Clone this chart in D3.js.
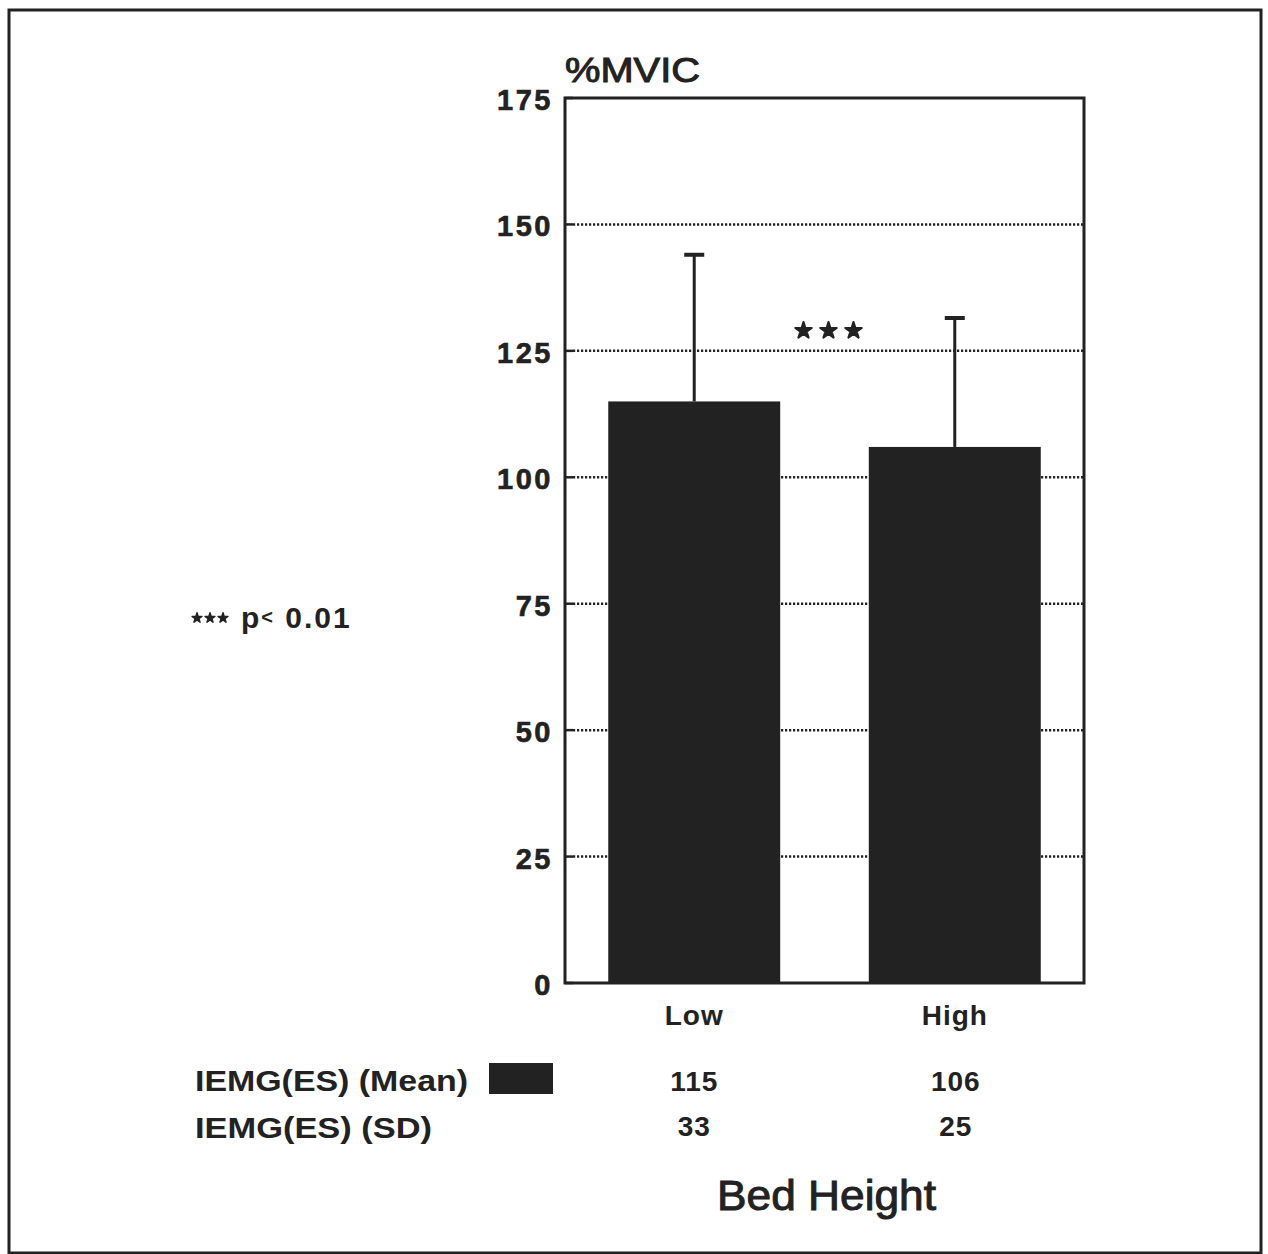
<!DOCTYPE html>
<html>
<head>
<meta charset="utf-8">
<script src="https://cdn.jsdelivr.net/npm/d3@7"></script>
<style>
  body { margin: 0; background: #fff; }
  svg { display: block; font-family: "Liberation Sans", Arial, sans-serif; }
  .tick-label { font-weight: bold; font-size: 29px; fill: #222; }
  .bold { font-weight: bold; fill: #222; }
</style>
</head>
<body>
<svg id="chart" width="1268" height="1254"></svg>
<script>
'use strict';

// data
var categories = ['Low', 'High'];
var meanValues = [115, 106];
var sdValues = [33, 25];
// upper whisker ends as drawn in the figure
var errorTop = [144, 131.5];
var yTicks = [0, 25, 50, 75, 100, 125, 150, 175];
var rowLabels = ['IEMG(ES) (Mean)', 'IEMG(ES) (SD)'];

var ink = '#222';
var margin = {'top': 98, 'left': 565, 'right': 184, 'bottom': 271};
var width = 1268, height = 1254;

var svg = d3.select('#chart');

var x = d3.scaleBand()
  .domain(categories)
  .range([margin.left, width - margin.right])
  .paddingInner(0.34)
  .paddingOuter(0.166);

var y = d3.scaleLinear()
  .domain([0, 175])
  .range([height - margin.bottom, margin.top]);

// outer frame
svg.append('rect')
  .attr('x', 9).attr('y', 10)
  .attr('width', 1252).attr('height', 1243)
  .attr('fill', 'none')
  .attr('stroke', ink)
  .attr('stroke-width', 3);

// dotted grid lines
svg.append('g').selectAll('line.grid')
  .data(yTicks.filter(function (d) { return d > 0 && d < 175; }))
  .enter().append('line')
  .attr('x1', margin.left + 8)
  .attr('x2', width - margin.right)
  .attr('y1', function (d) { return y(d); })
  .attr('y2', function (d) { return y(d); })
  .attr('stroke', ink)
  .attr('stroke-width', 2.5)
  .attr('stroke-dasharray', '2.2,1.8');

// short solid ticks on the left axis
svg.append('g').selectAll('line.tk')
  .data(yTicks)
  .enter().append('line')
  .attr('x1', margin.left)
  .attr('x2', margin.left + 8)
  .attr('y1', function (d) { return y(d); })
  .attr('y2', function (d) { return y(d); })
  .attr('stroke', ink)
  .attr('stroke-width', 2.5);

// bars
svg.append('g').selectAll('rect.bar')
  .data(meanValues)
  .enter().append('rect')
  .attr('x', function (d, i) { return x(categories[i]); })
  .attr('y', function (d) { return y(d); })
  .attr('width', x.bandwidth())
  .attr('height', function (d) { return y(0) - y(d); })
  .attr('fill', ink);

// error bars
svg.append('g').selectAll('g.err')
  .data(errorTop)
  .enter().append('g')
  .each(function (d, i) {
    var g = d3.select(this);
    var cx = x(categories[i]) + x.bandwidth() / 2;
    g.append('line')
      .attr('x1', cx).attr('x2', cx)
      .attr('y1', y(meanValues[i])).attr('y2', y(d))
      .attr('stroke', ink).attr('stroke-width', 3);
    g.append('line')
      .attr('x1', cx - 10).attr('x2', cx + 10)
      .attr('y1', y(d)).attr('y2', y(d))
      .attr('stroke', ink).attr('stroke-width', 4);
  });

// plot frame
svg.append('rect')
  .attr('x', margin.left)
  .attr('y', margin.top)
  .attr('width', width - margin.right - margin.left)
  .attr('height', y(0) - margin.top)
  .attr('fill', 'none')
  .attr('stroke', ink)
  .attr('stroke-width', 3);

// y tick labels
svg.append('g').selectAll('text')
  .data(yTicks)
  .enter().append('text')
  .classed('tick-label', true)
  .attr('x', margin.left - 12)
  .attr('y', function (d) { return y(d) + 12; })
  .attr('text-anchor', 'end')
  .attr('letter-spacing', 2.5)
  .attr('stroke', ink)
  .attr('stroke-width', 0.6)
  .text(function (d) { return d; });

// y title
svg.append('text')
  .attr('x', margin.left)
  .attr('y', 82)
  .attr('font-size', 35)
  .attr('fill', ink)
  .attr('stroke', ink)
  .attr('stroke-width', 1)
  .attr('textLength', 135)
  .attr('lengthAdjust', 'spacingAndGlyphs')
  .text('%MVIC');

// significance stars
var star = d3.symbol().type(d3.symbolStar);
[-25, 0, 25].forEach(function (dx) {
  svg.append('path')
    .attr('d', star.size(85)())
    .attr('transform', 'translate(' + (x.range()[0] + (x.range()[1] - x.range()[0]) / 2 + 4 + dx) + ',' + y(129) + ')')
    .attr('fill', ink)
    .attr('stroke', ink)
    .attr('stroke-width', 2)
    .attr('stroke-linejoin', 'round');
});

// category labels
svg.append('g').selectAll('text')
  .data(categories)
  .enter().append('text')
  .classed('bold', true)
  .attr('font-size', 28)
  .attr('x', function (d) { return x(d) + x.bandwidth() / 2; })
  .attr('y', 1025)
  .attr('text-anchor', 'middle')
  .attr('letter-spacing', 1)
  .text(function (d) { return d; });

// data table
var rowY = [1091, 1138];
var rowWidths = [273, 237];
rowLabels.forEach(function (lab, r) {
  svg.append('text')
    .classed('bold', true)
    .attr('font-size', 29)
    .attr('x', 195)
    .attr('y', rowY[r])
    .attr('textLength', rowWidths[r])
    .attr('lengthAdjust', 'spacingAndGlyphs')
    .text(lab);
});
svg.append('rect')
  .attr('x', 489).attr('y', 1063)
  .attr('width', 64).attr('height', 31)
  .attr('fill', ink);

[meanValues, sdValues].forEach(function (vals, r) {
  svg.append('g').selectAll('text')
    .data(vals)
    .enter().append('text')
    .classed('bold', true)
    .attr('font-size', 28)
    .attr('x', function (d, i) { return x(categories[i]) + x.bandwidth() / 2 + (i ? 1 : 0); })
    .attr('y', rowY[r] - (r ? 2 : 0))
    .attr('text-anchor', 'middle')
    .attr('letter-spacing', 1)
    .text(function (d) { return d; });
});

// x title
svg.append('text')
  .attr('x', 717)
  .attr('y', 1210)
  .attr('font-size', 43)
  .attr('fill', ink)
  .attr('stroke', ink)
  .attr('stroke-width', 1)
  .attr('textLength', 219)
  .attr('lengthAdjust', 'spacingAndGlyphs')
  .text('Bed Height');

// significance legend
var legend = svg.append('g').attr('transform', 'translate(197,618)');
[0, 13, 26].forEach(function (dx) {
  legend.append('path')
    .attr('d', star.size(30)())
    .attr('transform', 'translate(' + dx + ',0)')
    .attr('fill', ink)
    .attr('stroke', ink)
    .attr('stroke-width', 1.5)
    .attr('stroke-linejoin', 'round');
});
var lt = legend.append('text')
  .classed('bold', true)
  .attr('font-size', 30)
  .attr('letter-spacing', 2)
  .attr('x', 44)
  .attr('y', 10);
lt.append('tspan').text('p');
lt.append('tspan').attr('font-size', 20).attr('dy', -4).text('<');
lt.append('tspan').attr('dy', 4).text(' 0.01');
</script>
</body>
</html>
